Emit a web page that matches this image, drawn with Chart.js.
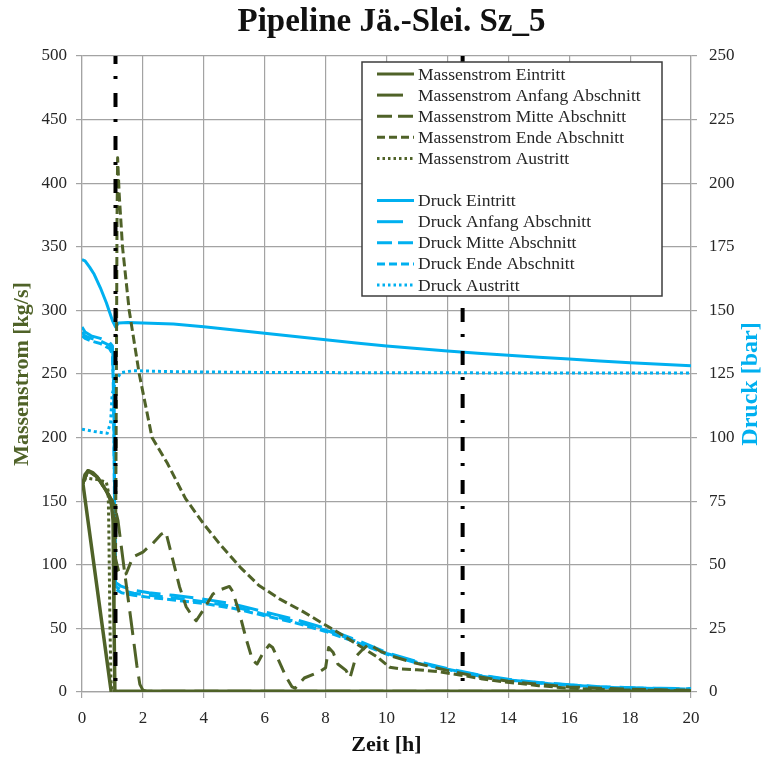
<!DOCTYPE html>
<html><head><meta charset="utf-8">
<script src="https://cdn.jsdelivr.net/npm/chart.js@4/dist/chart.umd.min.js"></script>
<style>html,body{margin:0;padding:0;background:#fff}#wrap{width:763px;height:760px}</style>
</head><body><div id="wrap"><canvas id="c" width="763" height="760"></canvas></div>
<script>
// ---- tick labels ----
const timeTicks = [0,2,4,6,8,10,12,14,16,18,20];
const massTicks = [0,50,100,150,200,250,300,350,400,450,500];
const pressTicks = [0,25,50,75,100,125,150,175,200,225,250];

// ---- Massenstrom [kg/s] ----
const mEinT = [0.96,0.03,0.1,0.2,0.35,0.5,0.65,0.8,0.9,0.97,1.02,1.05,1.08,1.2,20];
const mEinV = [0,164,171,174,172.5,169,164,158,153,147,135,60,1,0.5,0.5];

const mAnfT = [0.03,0.2,0.5,0.8,1.0,1.1,1.18,1.4,1.6,1.8,1.9,2.0,2.15,20];
const mAnfV = [164,174,169,158,150,143,135,94,58,21,6,1.5,0.5,0.5];

const mMitT = [0.03,0.2,0.5,0.8,1.0,1.06,1.1,1.2,1.3,1.45,1.67,2.0,2.33,2.6,2.75,2.93,3.2,3.42,3.64,3.75,3.97,4.3,4.5,4.84,4.95,5.17,5.4,5.6,5.75,5.93,6.15,6.26,6.4,6.7,6.9,7.0,7.3,7.8,8.0,8.1,8.25,8.4,8.67,8.8,9.0,9.2,9.43,9.6,9.8,10.2,10.9,12,13,14,15,16,17,18,19,20];
const mMitV = [164,174,169,158,150,130,105,95,92,93,106,110,117,124,126,109,83,67,59,56,64,77,80,83,79,62,41,25,22,30,37,35,28,12,4,3,11,16,19,35,31,22,17,11,28,33,38,35,32,28,23,17,12,8.5,6,4,3,2.2,1.7,1.3];

const mEndT = [0.03,0.2,0.5,0.8,1.0,1.06,1.1,1.13,1.15,1.17,1.22,1.33,1.55,1.88,2.3,2.8,3.4,4.0,4.5,5.2,5.8,6.5,7.2,7.9,8.4,9.0,9.7,10.1,10.5,11.0,11.7,12.5,13.1,13.85,15,16,17,18,19,20];
const mEndV = [164,174,169,158,150,120,100,250,370,420,392,350,300,250,200,180,152,132,117,98,84,73,64,54,47,38,27.5,19.5,18,17.5,16,13,10.5,8,5,3,2,1.5,1.2,1];

const mAusT = [0.05,0.2,0.5,0.8,0.86,0.88,0.9,0.92,0.95,0.98,1.5,20];
const mAusV = [167,168,167,165,158,130,90,50,10,0.5,0.3,0.3];

// ---- Druck [bar] ----
const pEinT = [0,0.1,0.25,0.4,0.6,0.8,1.0,1.1,1.2,1.5,2,3,4,5,6,7,8,9,10,11,12,13,14,15,16,17,18,19,20];
const pEinV = [170,169.5,167,164.2,159,153,146,143.5,145,145.2,145,144.7,143.6,142.3,141,139.7,138.5,137.2,136,135,134,133.2,132.4,131.6,130.9,130.1,129.4,128.8,128.2];

const pAnfT = [0,0.1,0.3,0.6,0.9,1.0,1.04,1.07,1.1,1.3,1.7,2.2,3,4,5,6,7,8,9,10,11,12,13,14,15,16,17,18,19,20];
const pAnfV = [143.5,141.5,140,139,137.5,136,125,80,43,41.5,40,39,38,36.5,34.5,31.5,28.5,25,20.5,15.5,12,9.2,6.8,5,3.7,2.9,2.1,1.7,1.45,1.3];

const pMitT = pAnfT;
const pMitV = [141.5,140,139,138,136.3,134,120,75,41.5,40,38.8,38,37,35.5,33.5,30.5,27.8,24.3,20,15.2,11.7,9,6.6,4.8,3.6,2.8,2.0,1.6,1.4,1.25];

const pEndT = pAnfT;
const pEndV = [140,139,138,137,135,133,115,70,40.5,39,38,37.2,36.2,34.8,32.8,30,27.2,23.8,19.6,14.9,11.4,8.8,6.4,4.7,3.5,2.7,1.95,1.55,1.35,1.2];

const pAusT = [0,0.4,0.83,0.94,0.99,1.1,1.27,1.7,3,6,10,15,20];
const pAusV = [103.3,102.4,101.7,106,117,122,125.5,126.3,125.9,125.6,125.5,125.4,125.4];

// ---- event markers (vertical dash-dot lines) ----
const eventTimes = [1.1, 12.5];

const GREEN = '#4f6228';
const BLUE = '#00b0f0';

function pts(t, v) { return t.map((x, i) => ({x: x, y: v[i]})); }

function series(label, t, v, color, dash, legendDash, axis, width) {
  return {
    label: label, data: pts(t, v), yAxisID: axis,
    borderColor: color, backgroundColor: color,
    borderWidth: width || 3, borderDash: dash, legendDash: legendDash,
    pointRadius: 0, showLine: true, tension: 0, inLegend: true,
    borderCapStyle: 'butt', borderJoinStyle: 'round'
  };
}

const DASH_LONG = [24, 9], DASH_MED = [14, 8], DASH_SHORT = [9, 4], DASH_DOT = [3, 3];
const LEG_LONG = [26, 20], LEG_MED = [15, 6], LEG_SHORT = [8, 4], LEG_DOT = [2.5, 3];

const datasets = [];
eventTimes.forEach(t => datasets.push({
  label: 'event', data: [{x: t, y: massTicks[massTicks.length-1]}, {x: t, y: 0}], yAxisID: 'y',
  borderColor: '#000', borderWidth: 4, borderDash: [14, 12, 3, 14], borderDashOffset: 6,
  pointRadius: 0, showLine: true, inLegend: false, borderCapStyle: 'butt'
}));
datasets.push(series('Massenstrom Eintritt', mEinT, mEinV, GREEN, [], [], 'y', 3.5));
datasets.push(series('Massenstrom Anfang Abschnitt', mAnfT, mAnfV, GREEN, DASH_LONG, LEG_LONG, 'y'));
datasets.push(series('Massenstrom Mitte Abschnitt', mMitT, mMitV, GREEN, DASH_MED, LEG_MED, 'y'));
datasets.push(series('Massenstrom Ende Abschnitt', mEndT, mEndV, GREEN, DASH_SHORT, LEG_SHORT, 'y'));
datasets.push(series('Massenstrom Austritt', mAusT, mAusV, GREEN, DASH_DOT, LEG_DOT, 'y'));
datasets.push(series('Druck Eintritt', pEinT, pEinV, BLUE, [], [], 'y2'));
datasets.push(series('Druck Anfang Abschnitt', pAnfT, pAnfV, BLUE, DASH_LONG, LEG_LONG, 'y2'));
datasets.push(series('Druck Mitte Abschnitt', pMitT, pMitV, BLUE, DASH_MED, LEG_MED, 'y2'));
datasets.push(series('Druck Ende Abschnitt', pEndT, pEndV, BLUE, DASH_SHORT, LEG_SHORT, 'y2'));
datasets.push(series('Druck Austritt', pAusT, pAusV, BLUE, DASH_DOT, LEG_DOT, 'y2'));

const SERIF = "'Liberation Serif', 'DejaVu Serif', serif";
const TXT = '#262626';
const GRID = '#a3a3a3';
const CHART_TITLE = 'Pipeline Jä.-Slei. Sz_5';
const RIGHT_TITLE = 'Druck [bar]';

const boxLegend = {
  id: 'boxLegend',
  afterDraw(chart) {
    const ctx = chart.ctx, a = chart.chartArea;
    // chart title
    ctx.save();
    ctx.font = "bold 33px " + SERIF;
    ctx.fillStyle = '#111';
    ctx.textAlign = 'center';
    ctx.textBaseline = 'middle';
    ctx.fillText(CHART_TITLE, (a.left + a.right) / 2 + 5, 22);
    ctx.restore();

    // right axis title, reading bottom-to-top
    ctx.save();
    ctx.translate(chart.width - 12, (a.top + a.bottom) / 2 + 10);
    ctx.rotate(-Math.PI / 2);
    ctx.font = "bold 24px " + SERIF;
    ctx.fillStyle = BLUE;
    ctx.textAlign = 'center';
    ctx.textBaseline = 'middle';
    ctx.fillText(RIGHT_TITLE, 0, 0);
    ctx.restore();

    const x0 = a.left + 280, y0 = a.top + 6, w = 300, h = 234;
    ctx.save();
    ctx.fillStyle = '#fff';
    ctx.fillRect(x0, y0, w, h);
    ctx.strokeStyle = '#3c3c3c';
    ctx.lineWidth = 1.5;
    ctx.strokeRect(x0, y0, w, h);
    let row = 0;
    ctx.font = "17.5px " + SERIF;
    ctx.textBaseline = 'middle';
    chart.data.datasets.forEach(ds => {
      if (!ds.inLegend) return;
      if (row === 5) row = 6;
      const y = y0 + 12 + row * 21.1;
      ctx.beginPath();
      ctx.setLineDash(ds.legendDash || []);
      ctx.lineWidth = 3;
      ctx.lineCap = 'butt';
      ctx.strokeStyle = ds.borderColor;
      ctx.moveTo(x0 + 15, y);
      ctx.lineTo(x0 + 52, y);
      ctx.stroke();
      ctx.setLineDash([]);
      ctx.fillStyle = TXT;
      ctx.fillText(ds.label, x0 + 56, y + 1);
      row++;
    });
    ctx.restore();
  }
};

new Chart(document.getElementById('c'), {
  type: 'scatter',
  data: { datasets: datasets },
  plugins: [boxLegend],
  options: {
    responsive: false, animation: false, devicePixelRatio: 1,
    layout: { padding: { top: 56, left: 0, right: 0, bottom: 0 } },
    plugins: {
      legend: { display: false },
      tooltip: { enabled: false },
      title: { display: false }
    },
    scales: {
      x: {
        type: 'linear', min: timeTicks[0], max: timeTicks[timeTicks.length-1],
        afterBuildTicks: s => { s.ticks = timeTicks.map(v => ({value: v})); },
        afterFit: s => { s.height = 68; },
        grid: { color: GRID, lineWidth: 1.2, tickLength: 6, tickColor: GRID },
        border: { color: GRID, width: 1.2 },
        ticks: { color: TXT, font: { family: SERIF, size: 17 }, padding: 10, maxRotation: 0 },
        title: { display: true, text: 'Zeit [h]', color: '#111', font: { family: SERIF, size: 22, weight: 'bold' }, padding: { top: 0, bottom: 1 } }
      },
      y: {
        type: 'linear', position: 'left', min: massTicks[0], max: massTicks[massTicks.length-1],
        afterBuildTicks: s => { s.ticks = massTicks.map(v => ({value: v})); },
        afterFit: s => { s.width = 82; },
        grid: { color: GRID, lineWidth: 1.2, tickLength: 6, tickColor: GRID },
        border: { color: GRID, width: 1.2 },
        ticks: { color: TXT, font: { family: SERIF, size: 17 }, padding: 9 },
        title: { display: true, text: 'Massenstrom [kg/s]', color: GREEN, font: { family: SERIF, size: 22, weight: 'bold' }, padding: { top: 9, bottom: 0 } }
      },
      y2: {
        type: 'linear', position: 'right', min: pressTicks[0], max: pressTicks[pressTicks.length-1],
        afterBuildTicks: s => { s.ticks = pressTicks.map(v => ({value: v})); },
        afterFit: s => { s.width = 72; },
        grid: { drawOnChartArea: false, color: GRID, lineWidth: 1.2, tickLength: 6, tickColor: GRID },
        border: { color: GRID, width: 1.2 },
        ticks: { color: TXT, font: { family: SERIF, size: 17 }, padding: 12 },
        title: { display: false }
      }
    }
  }
});
</script>
</body></html>
